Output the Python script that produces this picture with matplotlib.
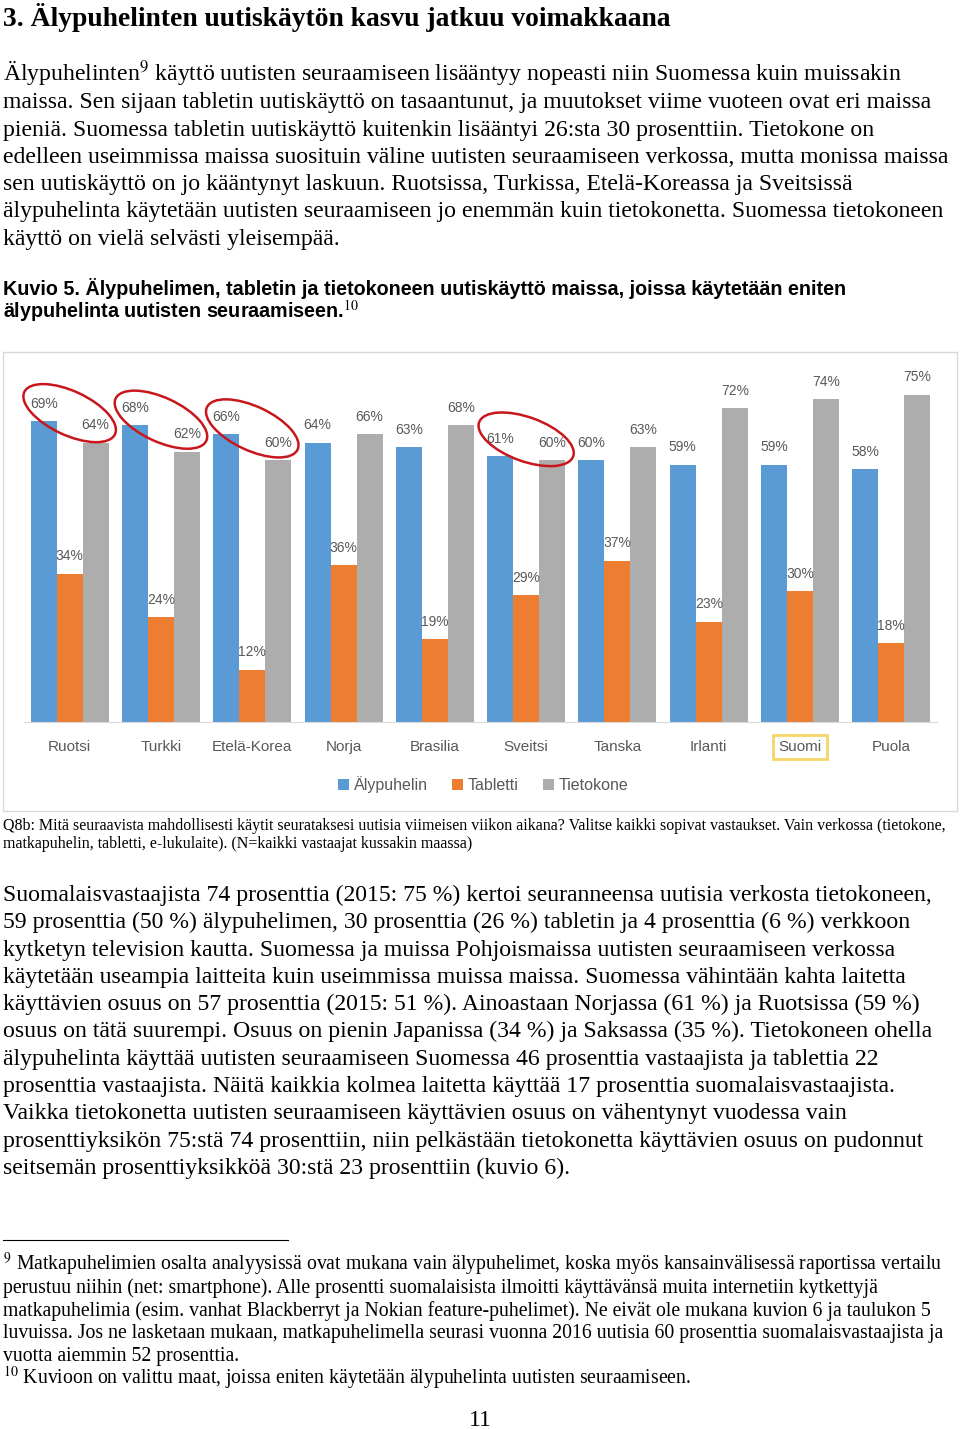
import numpy as np
import matplotlib
matplotlib.use('Agg')
import matplotlib.pyplot as plt
from matplotlib.patches import Ellipse, Rectangle
from matplotlib.transforms import ScaledTranslation

plt.rcParams['mathtext.fontset'] = 'stix'

# data
countries = ['Ruotsi', 'Turkki', 'Etelä-Korea', 'Norja', 'Brasilia',
             'Sveitsi', 'Tanska', 'Irlanti', 'Suomi', 'Puola']
smart = [69, 68, 66, 64, 63, 61, 60, 59, 59, 58]
tablet = [34, 24, 12, 36, 19, 29, 37, 23, 30, 18]
computer = [64, 62, 60, 66, 68, 60, 63, 72, 74, 75]
series_names = ['Älypuhelin', 'Tabletti', 'Tietokone']
circled = [0, 1, 2, 5]          # groups with red ellipse (blue vs gray)
circle_angles = [-25, -25, -25, -20]
highlight = 'Suomi'

heading = "3. Älypuhelinten uutiskäytön kasvu jatkuu voimakkaana"
para1 = [
    "Älypuhelinten$^9$ käyttö uutisten seuraamiseen lisääntyy nopeasti niin Suomessa kuin muissakin",
    "maissa. Sen sijaan tabletin uutiskäyttö on tasaantunut, ja muutokset viime vuoteen ovat eri maissa",
    "pieniä. Suomessa tabletin uutiskäyttö kuitenkin lisääntyi 26:sta 30 prosenttiin. Tietokone on",
    "edelleen useimmissa maissa suosituin väline uutisten seuraamiseen verkossa, mutta monissa maissa",
    "sen uutiskäyttö on jo kääntynyt laskuun. Ruotsissa, Turkissa, Etelä-Koreassa ja Sveitsissä",
    "älypuhelinta käytetään uutisten seuraamiseen jo enemmän kuin tietokonetta. Suomessa tietokoneen",
    "käyttö on vielä selvästi yleisempää.",
]
kuvio = [
    "Kuvio 5. Älypuhelimen, tabletin ja tietokoneen uutiskäyttö maissa, joissa käytetään eniten",
    "älypuhelinta uutisten seuraamiseen.$^{10}$",
]
caption = [
    "Q8b: Mitä seuraavista mahdollisesti käytit seurataksesi uutisia viimeisen viikon aikana? Valitse kaikki sopivat vastaukset. Vain verkossa (tietokone,",
    "matkapuhelin, tabletti, e-lukulaite). (N=kaikki vastaajat kussakin maassa)",
]
para2 = [
    "Suomalaisvastaajista 74 prosenttia (2015: 75 %) kertoi seuranneensa uutisia verkosta tietokoneen,",
    "59 prosenttia (50 %) älypuhelimen, 30 prosenttia (26 %) tabletin ja 4 prosenttia (6 %) verkkoon",
    "kytketyn television kautta. Suomessa ja muissa Pohjoismaissa uutisten seuraamiseen verkossa",
    "käytetään useampia laitteita kuin useimmissa muissa maissa. Suomessa vähintään kahta laitetta",
    "käyttävien osuus on 57 prosenttia (2015: 51 %). Ainoastaan Norjassa (61 %) ja Ruotsissa (59 %)",
    "osuus on tätä suurempi. Osuus on pienin Japanissa (34 %) ja Saksassa (35 %). Tietokoneen ohella",
    "älypuhelinta käyttää uutisten seuraamiseen Suomessa 46 prosenttia vastaajista ja tablettia 22",
    "prosenttia vastaajista. Näitä kaikkia kolmea laitetta käyttää 17 prosenttia suomalaisvastaajista.",
    "Vaikka tietokonetta uutisten seuraamiseen käyttävien osuus on vähentynyt vuodessa vain",
    "prosenttiyksikön 75:stä 74 prosenttiin, niin pelkästään tietokonetta käyttävien osuus on pudonnut",
    "seitsemän prosenttiyksikköä 30:stä 23 prosenttiin (kuvio 6).",
]
footnotes = [
    "$^9$ Matkapuhelimien osalta analyysissä ovat mukana vain älypuhelimet, koska myös kansainvälisessä raportissa vertailu",
    "perustuu niihin (net: smartphone). Alle prosentti suomalaisista ilmoitti käyttävänsä muita internetiin kytkettyjä",
    "matkapuhelimia (esim. vanhat Blackberryt ja Nokian feature-puhelimet). Ne eivät ole mukana kuvion 6 ja taulukon 5",
    "luvuissa. Jos ne lasketaan mukaan, matkapuhelimella seurasi vuonna 2016 uutisia 60 prosenttia suomalaisvastaajista ja",
    "vuotta aiemmin 52 prosenttia.",
    "$^{10}$ Kuvioon on valittu maat, joissa eniten käytetään älypuhelinta uutisten seuraamiseen.",
]
page_no = "11"

W, H = 960, 1429
fig = plt.figure(figsize=(W / 100, H / 100), dpi=100)


def fx(x):
    return x / W


def fy(y):
    return 1 - y / H


def block(lines, x, y0, step, **kw):
    for i, s in enumerate(lines):
        fig.text(fx(x), fy(y0 + i * step), s, ha='left', va='baseline', **kw)


serif = 'Liberation Serif'
sans = 'Liberation Sans'

fig.text(fx(3), fy(26), heading, family=serif, weight='bold', fontsize=19.9,
         va='baseline')
block(para1, 3, 81, 27.3, family=serif, fontsize=17.1)
block(kuvio, 3, 295, 23, family=sans, weight='bold', fontsize=14.2)
block(caption, 3, 830, 18, family=serif, fontsize=11.5)
block(para2, 3, 901, 27.3, family=serif, fontsize=17.1)
block(footnotes, 3, 1270, 22.8, family=serif, fontsize=14.2)
fig.text(fx(480), fy(1426), page_no, family=serif, fontsize=17.1,
         ha='center', va='baseline')
fig.add_artist(plt.Line2D([fx(3), fx(288)], [fy(1240), fy(1240)],
                          color='black', lw=0.8))

# chart frame
fig.add_artist(Rectangle((fx(3), fy(811)), fx(957 - 3), (811 - 352) / H,
                         fill=False, edgecolor='#d9d9d9', lw=1))

# chart
ax = fig.add_axes([fx(24), fy(722), fx(937 - 24), (722 - 373) / H])
colors = ['#5B9BD5', '#ED7D31', '#ADADAD']
x = np.arange(len(countries))
w = 0.285
for k, (vals, c, name) in enumerate(zip([smart, tablet, computer], colors, series_names)):
    bars = ax.bar(x + (k - 1) * w, vals, w, color=c, label=name, zorder=2)
    for b, v in zip(bars, vals):
        ax.annotate(f'{v}%', (b.get_x() + b.get_width() / 2, v),
                    xytext=(0, 12.5), textcoords='offset points',
                    ha='center', va='center', fontsize=10, color='#595959',
                    family=sans, annotation_clip=False)

ax.set_xlim(-0.5, len(countries) - 0.5)
ax.set_ylim(0, 80)
ax.set_yticks([])
ax.set_xticks(x)
ax.set_xticklabels(countries, family=sans, fontsize=11, color='#595959')
ax.tick_params(axis='x', length=0, pad=13)
for s in ['top', 'right', 'left']:
    ax.spines[s].set_visible(False)
ax.spines['bottom'].set_color('#d9d9d9')
ax.patch.set_visible(False)

for lab in ax.get_xticklabels():
    if lab.get_text() == highlight:
        lab.set_bbox(dict(facecolor='none', edgecolor='#F7D568', lw=2,
                          boxstyle='square,pad=0.35'))

# red ellipses around blue/gray label pairs
for i, ang in zip(circled, circle_angles):
    cy = (smart[i] + computer[i]) / 2 + 4.3
    tr = fig.dpi_scale_trans + ScaledTranslation(i, cy, ax.transData)
    ax.add_artist(Ellipse((0, 0), 1.0, 0.44, angle=ang, fill=False,
                          edgecolor='#C8171C', lw=1.8, transform=tr,
                          clip_on=False, zorder=5))

handles, labels = ax.get_legend_handles_labels()
fig.legend(handles, labels, loc='center', bbox_to_anchor=(fx(483), fy(785)),
           ncol=3, frameon=False, handlelength=0.7, handleheight=0.7,
           handletextpad=0.3, columnspacing=1.5,
           prop={'family': sans, 'size': 11.5}, labelcolor='#595959')

fig.savefig('out.png', dpi=100)
